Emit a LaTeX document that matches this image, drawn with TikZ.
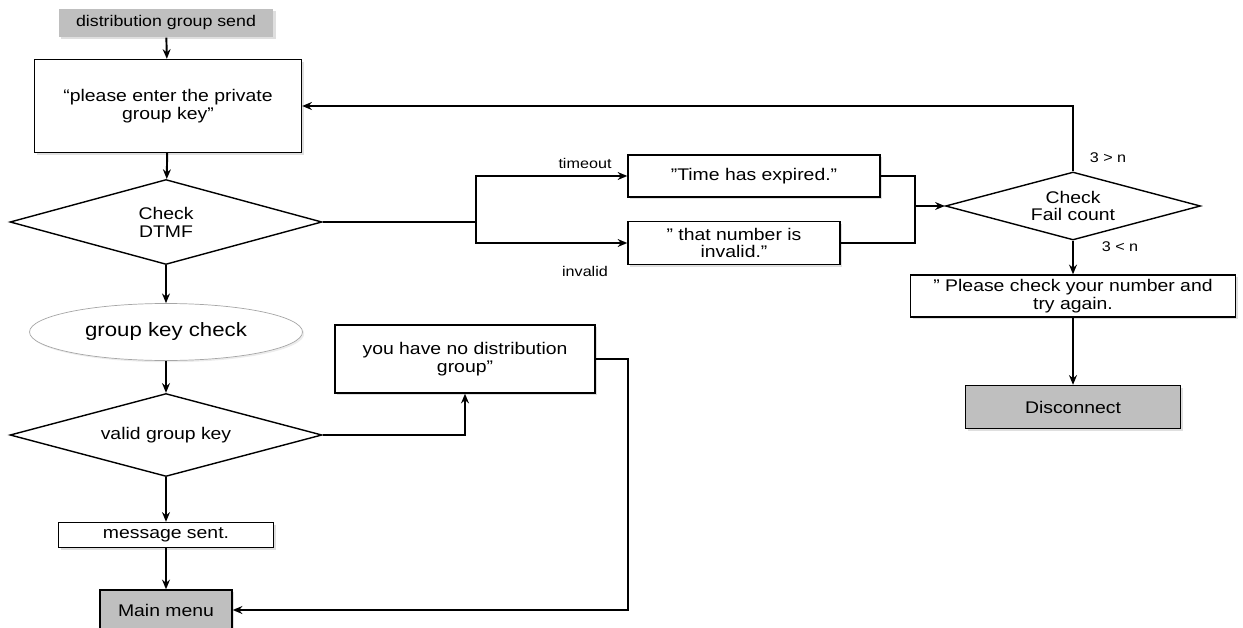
\documentclass[tikz,border=0pt]{standalone}
\usepackage{fontspec}
\setmainfont[FakeStretch=1.15]{Liberation Sans}
\usetikzlibrary{shapes.geometric,arrows.meta,shadows}

\tikzset{
  box/.style={draw, line width=0.8pt, fill=white, align=center, inner sep=1pt,
    font=\fontsize{9.6}{10.2}\selectfont,
    drop shadow={opacity=0.25, shadow xshift=1.2pt, shadow yshift=-1.2pt}},
  greybox/.style={box, fill=black!25},
  decision/.style={diamond, draw, line width=0.8pt, fill=white, align=center,
    inner sep=0pt, aspect=3.7, font=\fontsize{9.6}{10.2}\selectfont},
  lbl/.style={font=\fontsize{8}{9}\selectfont, inner sep=0pt},
  link/.style={line width=1.1pt},
  flow/.style={link, -{Stealth[length=5.5pt, width=4.5pt]}},
}

\begin{document}
\begin{tikzpicture}[x=0.02cm, y=-0.02cm]
  \useasboundingbox (0,0) rectangle (1243,628);

  % main column
  \node[greybox, draw=none, minimum width=4.3cm, minimum height=0.56cm,
        font=\fontsize{8.8}{10}\selectfont] (start) at (166,23) {distribution group send};
  \node[box, minimum width=5.34cm, minimum height=1.86cm] (enter) at (168,106)
        {“please enter the private\\group key”};
  \node[decision, minimum width=6.24cm, minimum height=1.7cm] (dtmf) at (166,222) {Check\\DTMF};
  \node[ellipse, draw=black!35, fill=white, minimum width=5.46cm, minimum height=1.14cm,
        font=\fontsize{11}{12}\selectfont,
        drop shadow={opacity=0.15, shadow xshift=1pt, shadow yshift=-1pt}] (gkc) at (166,332)
        {group key check};
  \node[decision, minimum width=6.24cm, minimum height=1.66cm] (valid) at (166,435) {valid group key};
  \node[box, minimum width=4.3cm, minimum height=0.5cm] (sent) at (166,535) {message sent.};
  \node[greybox, minimum width=2.64cm, minimum height=0.8cm] (menu) at (166,610) {Main menu};
  \node[box, minimum width=5.2cm, minimum height=1.36cm] (nogroup) at (465,359)
        {you have no distribution\\group”};

  % retry branch
  \node[box, minimum width=5.04cm, minimum height=0.84cm] (expired) at (754,176) {"Time has expired.”};
  \node[box, minimum width=4.24cm, minimum height=0.86cm] (invalid) at (734,243) {” that number is\\invalid.”};
  \node[decision, minimum width=5.1cm, minimum height=1.36cm] (fail) at (1073,206) {Check\\Fail count};
  \node[box, minimum width=6.5cm, minimum height=0.84cm] (again) at (1073,296)
        {” Please check your number and\\try again.};
  \node[greybox, minimum width=4.3cm, minimum height=0.86cm] (disc) at (1073,407) {Disconnect};

  \node[lbl] (tlbl) at (585,163) {timeout};
  \node[lbl] (ilbl) at (585,271) {invalid};
  \node[lbl] (gt) at (1108,158) {3 > n};
  \node[lbl] (lt) at (1120,247) {3 < n};

  \coordinate (split) at (476,222);
  \coordinate (merge) at (915,206);
  \coordinate (back) at (628,610);

  \draw[flow] (start) -- (enter);
  \draw[flow] (enter) -- (dtmf);
  \draw[flow] (dtmf) -- (gkc);
  \draw[flow] (gkc) -- (valid);
  \draw[flow] (valid) -- (sent);
  \draw[flow] (sent) -- (menu);
  \draw[flow] (valid.east) -| (nogroup.south);
  \draw[flow] (nogroup.east) -| (back) -- (menu.east);

  \draw[link] (dtmf.east) -- (split);
  \draw[flow] (split) |- (expired.west);
  \draw[flow] (split) |- (invalid.west);
  \draw[link] (expired.east) -| (merge);
  \draw[link] (invalid.east) -| (merge);
  \draw[flow] (merge) -- (fail.west);
  \draw[flow] (fail.north) |- (enter.east);
  \draw[flow] (fail) -- (again);
  \draw[flow] (again) -- (disc);
\end{tikzpicture}
\end{document}
